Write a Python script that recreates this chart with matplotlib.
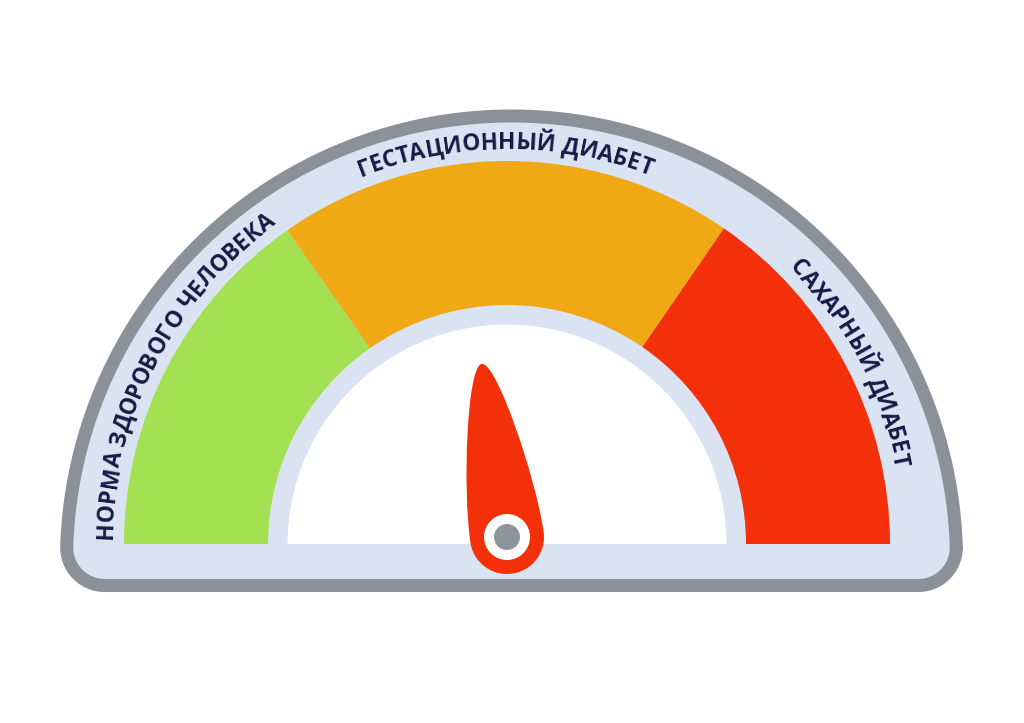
import numpy as np
import matplotlib
matplotlib.use("Agg")
import matplotlib.pyplot as plt
from matplotlib.patches import Wedge, Circle, Polygon, PathPatch
from matplotlib.path import Path
from matplotlib.font_manager import FontProperties, findfont, get_font

# зоны шкалы: границы в градусах (180 = левый край, 0 = правый)
zone_labels = ["НОРМА ЗДОРОВОГО ЧЕЛОВЕКА", "ГЕСТАЦИОННЫЙ ДИАБЕТ", "САХАРНЫЙ ДИАБЕТ"]
zone_edges = [180, 125, 55.5, 0]
zone_colors = ["#a3e052", "#f0a814", "#f3300a"]
needle_angle = 98.3

W, H = 1024, 723
fig = plt.figure(figsize=(W / 100, H / 100), dpi=100)
ax = fig.add_axes([0, 0, 1, 1])
ax.set_xlim(0, W)
ax.set_ylim(0, H)
ax.set_aspect('equal')
ax.axis('off')

light = '#d9e3f2'
grey = '#8b9199'
navy = '#161b46'


def arc(x0, y0, r, a0, a1, n=120):
    t = np.radians(np.linspace(a0, a1, n))
    return np.column_stack([x0 + r * np.cos(t), y0 + r * np.sin(t)])


# рамка
fx, fy, fr = 511.5, 162, 445
bot = 137.5
rf = 38
dyf = bot + rf - fy
dxf = np.sqrt((fr - rf) ** 2 - dyf ** 2)
tang = np.degrees(np.arctan2(dyf, dxf))
pts = np.vstack([
    arc(fx + dxf, bot + rf, rf, -90, tang),
    arc(fx, fy, fr, tang, 180 - tang, 300),
    arc(fx - dxf, bot + rf, rf, 180 - tang, 270),
])
ax.add_patch(Polygon(pts, closed=True, facecolor=light, edgecolor=grey,
                     linewidth=9.4, joinstyle='round'))

# цветные зоны
cx, cy = 507, 179
r_out, r_in, r_white = 383, 239, 219.5
for i, col in enumerate(zone_colors):
    ax.add_patch(Wedge((cx, cy), r_out, zone_edges[i + 1], zone_edges[i],
                       width=r_out - r_in, facecolor=col, edgecolor='none'))
ax.add_patch(Wedge((cx, cy), r_white, 0, 180, facecolor='white', edgecolor='none'))

# подписи по дуге
fs_px = 22.8
fp = FontProperties(family=['Open Sans', 'DejaVu Sans'], weight='bold', size=fs_px * 0.72)
font = get_font(findfont(fp))
font.set_size(fs_px, 72)


def adv(ch):
    return font.load_char(ord(ch)).linearHoriAdvance / 65536


r_base = 395
for i, lab in enumerate(zone_labels):
    mid = np.radians((zone_edges[i] + zone_edges[i + 1]) / 2)
    widths = [adv(ch) for ch in lab]
    total = sum(widths)
    pos = 0.0
    for ch, w in zip(lab, widths):
        s = pos + w / 2
        pos += w
        if ch == ' ':
            continue
        th = mid + (total / 2 - s) / r_base
        ax.text(cx + r_base * np.cos(th), cy + r_base * np.sin(th), ch,
                rotation=np.degrees(th) - 90, rotation_mode='anchor',
                ha='center', va='baseline', fontproperties=fp, color=navy)

# стрелка
px, py = 507, 186
rb = 37
codes = [Path.MOVETO, Path.CURVE4, Path.CURVE4, Path.CURVE4]
verts = [(0, 175), (15, 175), (rb, 55), (rb, 0)]
bottom = arc(0, 0, rb, 0, -180, 60)[1:]
verts += [tuple(p) for p in bottom]
codes += [Path.LINETO] * len(bottom)
verts += [(-rb, 55), (-15, 175), (0, 175), (0, 175)]
codes += [Path.CURVE4, Path.CURVE4, Path.CURVE4, Path.CLOSEPOLY]
v = np.array(verts, dtype=float)
rot = np.radians(needle_angle - 90)
R = np.array([[np.cos(rot), -np.sin(rot)], [np.sin(rot), np.cos(rot)]])
v = v @ R.T + [px, py]
ax.add_patch(PathPatch(Path(v, codes), facecolor='#f3300a', edgecolor='none'))
ax.add_patch(Circle((px, py), 23, facecolor='white', edgecolor='none'))
ax.add_patch(Circle((px, py), 13, facecolor='#8f949c', edgecolor='none'))

fig.savefig('out.png', dpi=100, facecolor='white')
